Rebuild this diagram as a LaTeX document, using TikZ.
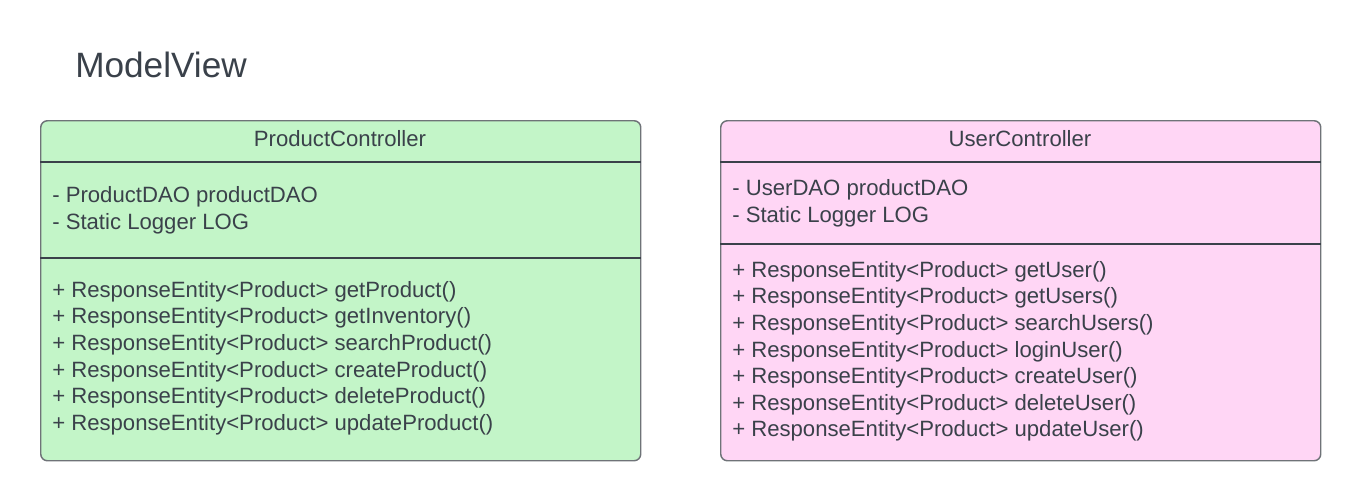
\documentclass[tikz,border=0pt]{standalone}
\usepackage{fontspec}
\setmainfont{Liberation Sans}
\usetikzlibrary{positioning}

\definecolor{inkgray}{HTML}{3A414A}
\definecolor{edgegray}{HTML}{6F7378}
\definecolor{prodgreen}{HTML}{C3F5C8}
\definecolor{userpink}{HTML}{FFD6F5}

\tikzset{
  classbox/.style={draw=edgegray, line width=1.1pt, rounded corners=5pt,
    minimum width=450pt, minimum height=255pt, inner sep=0pt, anchor=north west},
  member/.style={text=inkgray, inner sep=0pt, anchor=base west,
    font=\fontsize{16.6}{19}\selectfont},
  classname/.style={member, anchor=base},
  divider/.style={draw=inkgray, line width=0.9pt},
}

\begin{document}
\begin{tikzpicture}[x=0.75pt, y=-0.75pt]
	\useasboundingbox (0,0) rectangle (1360,500);

	\node [text=inkgray, inner sep=0pt, anchor=base west,
	       font=\fontsize{26.4}{31}\selectfont] (title) at (75,77) {ModelView};

	% product controller
	\node [classbox, fill=prodgreen] (pc) at (40,120) {};
	\node [classname] (pcname) at (340,146.3) {ProductController};
	\draw [divider] (pc.west |- 0,162) -- (pc.east |- 0,162);
	\draw [divider] (pc.west |- 0,258) -- (pc.east |- 0,258);
	\node [member] (pa1) at (52,202.3) {- ProductDAO productDAO};
	\node [member] (pa2) at (52,229) {- Static Logger LOG};
	\foreach \m [count=\i] in {getProduct(), getInventory(), searchProduct(),
	    createProduct(), deleteProduct(), updateProduct()}
		\node [member] (pm\i) at (52,{297.3+26.6*(\i-1)}) {+ ResponseEntity<Product> \m};

	% user controller
	\node [classbox, fill=userpink] (uc) at (720,120) {};
	\node [classname] (ucname) at (1020,146.3) {UserController};
	\draw [divider] (uc.west |- 0,162) -- (uc.east |- 0,162);
	\draw [divider] (uc.west |- 0,244) -- (uc.east |- 0,244);
	\node [member] (ua1) at (732,195.3) {- UserDAO productDAO};
	\node [member] (ua2) at (732,222) {- Static Logger LOG};
	\foreach \m [count=\i] in {getUser(), getUsers(), searchUsers(), loginUser(),
	    createUser(), deleteUser(), updateUser()}
		\node [member] (um\i) at (732,{277.3+26.6*(\i-1)}) {+ ResponseEntity<Product> \m};
\end{tikzpicture}
\end{document}
